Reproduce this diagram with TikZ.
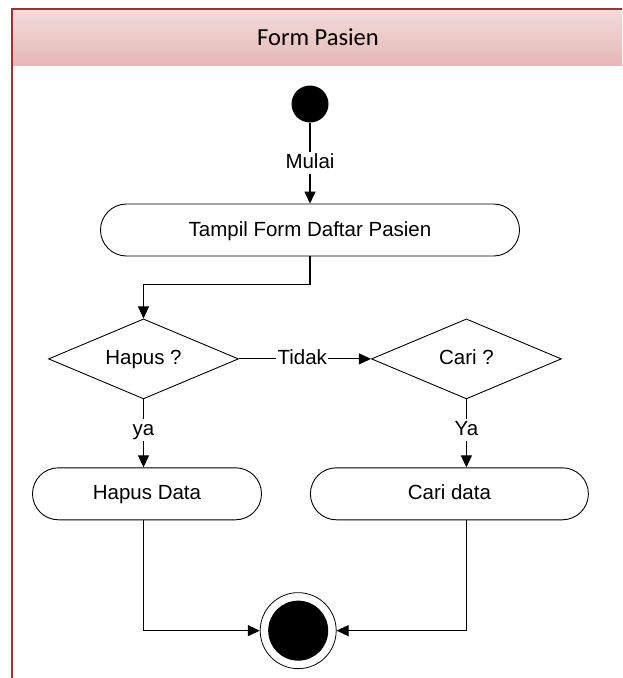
\documentclass[tikz,border=0pt]{standalone}
\usepackage{fontspec}
\setmainfont{Liberation Sans}
\newfontfamily\titlefont{Carlito}
\usepackage{tikz}
\usetikzlibrary{positioning, arrows.meta, shapes.geometric, shapes.misc, calc}
\definecolor{laneborder}{HTML}{943634}
\definecolor{lanetop}{HTML}{F2DCDB}
\definecolor{lanebottom}{HTML}{E5B8B7}
\tikzset{
    startdot/.style={circle, fill=black, minimum size=37pt, inner sep=0pt},
    enddot/.style={circle, draw, line width=0.8pt, minimum size=76pt, inner sep=0pt,
      path picture={\fill (path picture bounding box.center) circle (30pt);}},
    activity/.style={rounded rectangle, draw, line width=0.9pt, minimum height=52pt, inner sep=0pt,
      text height=12pt, text depth=0pt},
    decision/.style={diamond, draw, line width=0.9pt, aspect=2.4, inner sep=0pt,
      minimum width=190pt, minimum height=80pt, text height=12pt, text depth=0pt},
    lbl/.style={fill=white, inner sep=1.5pt, text height=15pt, text depth=4pt},
}

\begin{document}
\begin{tikzpicture}[x=1pt, y=-1pt, >={Triangle[length=12pt, width=11pt]},
    line width=1.1pt, font=\fontsize{20.5}{24}\selectfont]
    \useasboundingbox (0,0) rectangle (622,678);
    \clip (0,0) rectangle (622,678);

    \shade[top color=lanetop, bottom color=lanebottom] (12,9) rectangle (640,65);
    \draw[laneborder, line width=2.5pt] (12,700) -- (12,9) -- (640,9);
    \node[font=\titlefont\fontsize{24.5}{28}\selectfont] (judul) at (318,37) {Form Pasien};

    \node[startdot] (mulai) at (310,104) {};
    \node[activity, minimum width=419pt, below=80.5pt of mulai] (tampil) {Tampil Form Daftar Pasien};
    \node[decision, below=62pt of tampil, xshift=-166.5pt] (hapus) {Hapus ?};
    \node[decision, right=132pt of hapus] (cari) {Cari ?};
    \node[activity, minimum width=229pt, below=68pt of hapus, xshift=3.5pt] (hapusdata) {Hapus Data};
    \node[activity, minimum width=278pt, right=48pt of hapusdata] (caridata) {Cari data};
    \coordinate (tengah) at ($(hapusdata.south)!0.5!(caridata.south)$);
    \node[enddot, below=72pt of tengah] (selesai) {};

    \draw (mulai) edge[->] node[lbl]{Mulai} (tampil);
    \draw[->] (tampil.south) -- ++(0,28) -| (hapus.north);
    \draw (hapus) edge[->] node[lbl, pos=0.48]{Tidak} (cari);
    \draw[->] (hapus.south) -- node[lbl, pos=0.45]{ya} (hapus.south |- hapusdata.north);
    \draw[->] (cari.south) -- node[lbl, pos=0.45]{Ya} (cari.south |- caridata.north);
    \draw[->] (hapus.south |- hapusdata.south) |- (selesai.west);
    \draw[->] (cari.south |- caridata.south) |- (selesai.east);
  \end{tikzpicture}
\end{document}
